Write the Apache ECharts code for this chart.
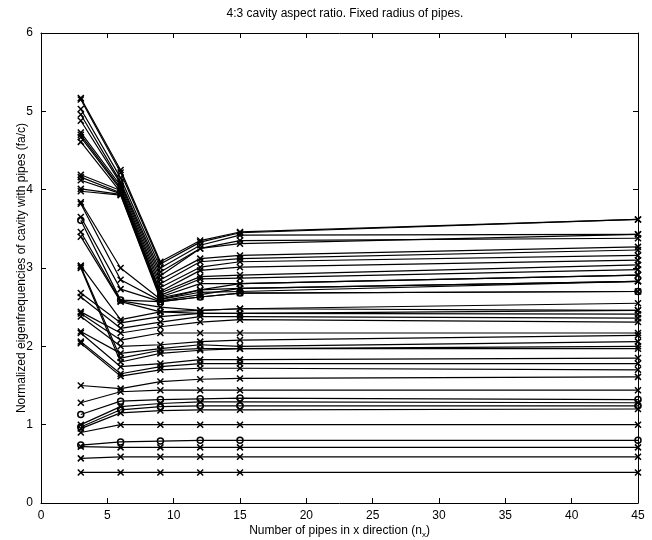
<!DOCTYPE html>
<html><head><meta charset="utf-8">
<script src="https://cdn.jsdelivr.net/npm/echarts@6/dist/echarts.min.js"></script>
<style>html,body{margin:0;padding:0;background:#fff}#c{width:652px;height:540px}</style>
</head><body><div id="c"></div>
<script>
// x positions (number of pipes in x direction)
const xValues = [3, 6, 9, 12, 15, 45];
const xTicks = [0, 5, 10, 15, 20, 25, 30, 35, 40, 45];
const yTicks = [0, 1, 2, 3, 4, 5, 6];

// eigenfrequency curves (values at xValues)
const groupTop = [
  [5.17, 4.25, 3.08, 3.35, 3.46, 3.62],
  [5.15, 4.22, 3.05, 3.33, 3.45, 3.62],
  [5.03, 4.15, 3.00, 3.29, 3.42, 3.43],
  [4.96, 4.10, 2.95, 3.25, 3.35, 3.38],
  [4.88, 4.08, 2.90, 3.25, 3.31, 3.43],
  [4.73, 4.05, 2.85, 3.12, 3.16, 3.27],
  [4.70, 4.02, 2.80, 3.08, 3.12, 3.23],
  [4.67, 4.00, 2.75, 3.01, 3.08, 3.16],
  [4.61, 3.97, 2.70, 2.97, 3.01, 3.10]
];
const groupUpper = [
  [4.19, 3.99, 2.68, 2.89, 2.91, 3.04],
  [4.16, 3.96, 2.65, 2.86, 2.87, 2.98],
  [4.12, 3.95, 2.63, 2.80, 2.80, 2.91],
  [4.01, 3.94, 2.62, 2.72, 2.74, 2.83],
  [3.98, 3.93, 2.60, 2.69, 2.70, 2.83]
];
const groupMid = [
  [3.84, 3.00, 2.60, 2.72, 2.80, 2.91],
  [3.82, 2.85, 2.58, 2.66, 2.74, 2.83],
  [3.65, 2.73, 2.57, 2.63, 2.68, 2.70],
  [3.61, 2.59, 2.57, 2.63, 2.68, 2.70],
  [3.46, 2.58, 2.50, 2.46, 2.48, 2.55],
  [3.40, 2.57, 2.44, 2.42, 2.42, 2.46]
];
const groupLowMid = [
  [3.03, 2.34, 2.44, 2.46, 2.48, 2.46],
  [2.68, 2.30, 2.38, 2.42, 2.42, 2.41],
  [2.63, 2.23, 2.31, 2.38, 2.38, 2.36],
  [2.44, 2.17, 2.25, 2.31, 2.34, 2.31],
  [2.42, 2.08, 2.17, 2.17, 2.17, 2.17],
  [2.38, 2.00, 2.02, 2.06, 2.08, 2.14],
  [2.19, 1.91, 1.97, 2.02, 2.00, 2.06],
  [3.02, 1.85, 1.95, 1.97, 1.97, 2.00],
  [3.00, 1.80, 1.91, 1.95, 1.97, 1.97],
  [2.17, 1.74, 1.78, 1.83, 1.83, 1.85],
  [2.06, 1.65, 1.74, 1.78, 1.78, 1.78],
  [2.04, 1.62, 1.70, 1.72, 1.72, 1.70]
];
const groupLow = [
  [0.39, 0.39, 0.39, 0.39, 0.39, 0.39],
  [0.57, 0.59, 0.59, 0.59, 0.59, 0.59],
  [0.72, 0.71, 0.71, 0.71, 0.71, 0.71],
  [0.74, 0.78, 0.79, 0.80, 0.80, 0.80],
  [0.90, 1.00, 1.00, 1.00, 1.00, 1.00],
  [0.95, 1.15, 1.18, 1.19, 1.19, 1.20],
  [0.97, 1.19, 1.23, 1.24, 1.24, 1.24],
  [1.00, 1.23, 1.27, 1.29, 1.29, 1.28],
  [1.13, 1.30, 1.32, 1.33, 1.34, 1.32],
  [1.28, 1.42, 1.44, 1.44, 1.44, 1.44],
  [1.50, 1.46, 1.55, 1.58, 1.59, 1.61]
];

const allCurves = [].concat(groupTop, groupUpper, groupMid, groupLowMid, groupLow);
const xMark = 'path://M0,0L10,10M10,0L0,10';
const oMark = 'path://M10,5A5,5,0,1,1,0,5A5,5,0,1,1,10,5Z';
const circleIdx = new Set([groupTop.length + groupUpper.length + 3,
  allCurves.length - 8, allCurves.length - 5, allCurves.length - 3]);

const font = 'Liberation Sans, Arial, Helvetica, sans-serif';
const series = allCurves.map((vals, i) => ({
  type: 'line',
  data: xValues.map((x, j) => [x, vals[j]]),
  symbol: circleIdx.has(i) ? oMark : xMark,
  symbolSize: 6,
  showSymbol: true,
  lineStyle: { color: '#000', width: 1.2 },
  itemStyle: { color: 'rgba(0,0,0,0)', borderColor: '#000', borderWidth: 1.5 },
  emphasis: { disabled: true },
  animation: false,
  z: 2
}));

const chart = echarts.init(document.getElementById('c'), null, { renderer: 'canvas' });
const baseAxis = {
  min: 0, axisLine: { show: true, onZero: false, lineStyle: { color: '#000', width: 1 } },
  axisTick: { show: true, inside: true, length: 5, lineStyle: { color: '#000' } },
  splitLine: { show: false }
};
chart.setOption({
  animation: false,
  backgroundColor: '#fff',
  title: {
    text: '4:3 cavity aspect ratio. Fixed radius of pipes.',
    left: 340, top: 3, textAlign: 'center',
    textStyle: { fontFamily: font, fontSize: 12, fontWeight: 'normal', color: '#000' }
  },
  grid: { left: 41, right: 14, top: 33, bottom: 37, containLabel: false, outerBoundsMode: 'none' },
  xAxis: [
    Object.assign({}, baseAxis, {
      type: 'value', max: 45, interval: 5, position: 'bottom',
      axisLabel: { color: '#000', fontFamily: font, fontSize: 12, margin: 7,
        formatter: v => xTicks.includes(v) ? String(v) : '' },
      name: 'Number of pipes in x direction (n{sub|x})',
      nameLocation: 'middle', nameGap: 20, nameMoveOverlap: false,
      nameTextStyle: { color: '#000', fontFamily: font, fontSize: 12,
        rich: { sub: { fontFamily: font, fontSize: 8, verticalAlign: 'bottom', padding: [8, 0, 0, 0], color: '#000' } } }
    }),
    Object.assign({}, baseAxis, {
      type: 'value', max: 45, interval: 5, position: 'top', axisLabel: { show: false }
    })
  ],
  yAxis: [
    Object.assign({}, baseAxis, {
      type: 'value', max: 6, interval: 1, position: 'left',
      axisLabel: { color: '#000', fontFamily: font, fontSize: 12, margin: 8,
        formatter: v => yTicks.includes(v) ? String(v) : '' },
      name: 'Normalized eigenfrequencies of cavity with pipes (fa/c)',
      nameLocation: 'middle', nameGap: 13, nameRotate: 90, nameMoveOverlap: false,
      nameTextStyle: { color: '#000', fontFamily: font, fontSize: 12 }
    }),
    Object.assign({}, baseAxis, {
      type: 'value', max: 6, interval: 1, position: 'right', axisLabel: { show: false }
    })
  ],
  series: series
});
</script>
</body></html>
